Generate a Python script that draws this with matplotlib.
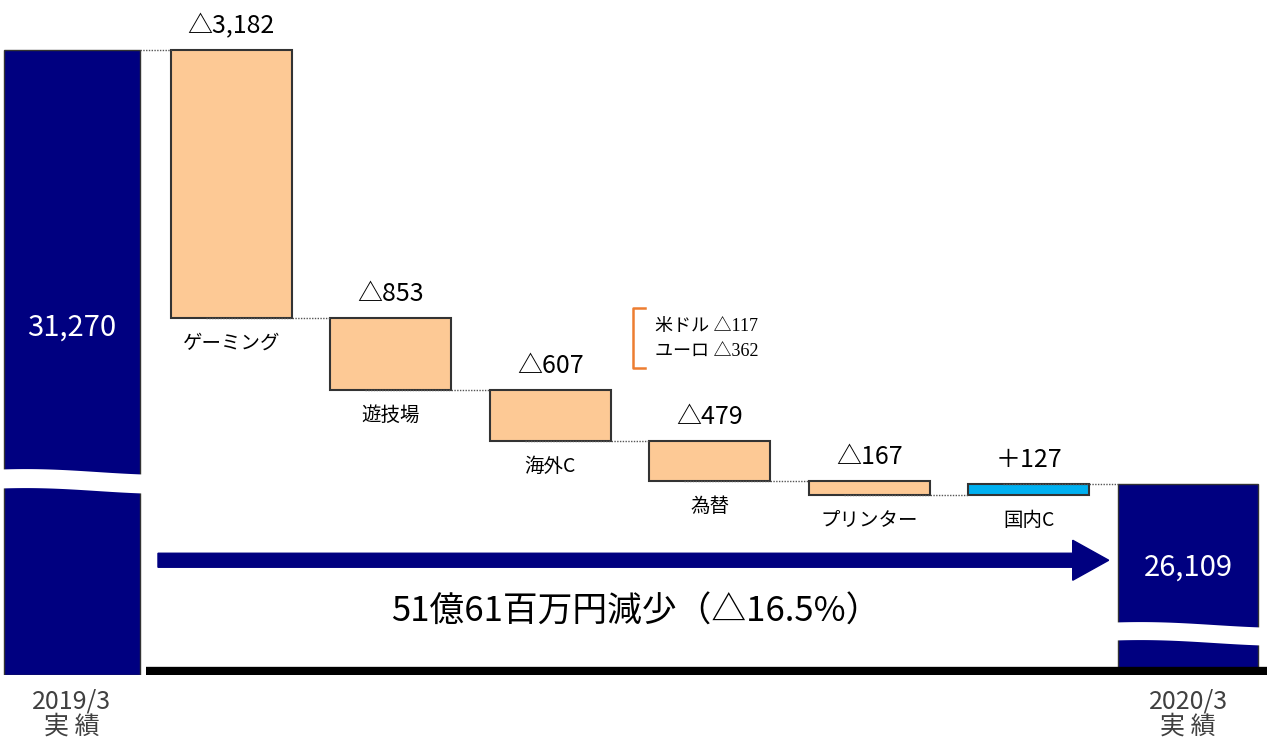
import numpy as np
import matplotlib
matplotlib.use("Agg")
import matplotlib.pyplot as plt
from matplotlib.patches import FancyArrow

plt.rcParams['font.family'] = ['Noto Sans CJK JP', 'DejaVu Sans']

# data
start_value = 31270
end_value = 26109
categories = ['ゲーミング', '遊技場', '海外C', '為替', 'プリンター', '国内C']
changes = [-3182, -853, -607, -479, -167, 127]
period_labels = ['2019/3\n実 績', '2020/3\n実 績']
fx_names = ['米ドル', 'ユーロ']
fx_values = [117, 362]
summary = '51億61百万円減少（△16.5%）'

navy = '#000080'
peach = '#FDC995'
cyan = '#00B0F0'
edge = '#333333'

fig = plt.figure(figsize=(12.71, 7.45), dpi=100)
ax = fig.add_axes([0, 70 / 745, 1, 675 / 745])
ax.set_xlim(-0.45, 7.52)
ax.set_ylim(23845, 31864)
ax.axis('off')
ybot = ax.get_ylim()[0]
xt = ax.get_xaxis_transform()

# start / end bars
n = len(categories)
ax.bar(0, start_value - ybot, bottom=ybot, width=0.85, color=navy, edgecolor=edge, lw=1, zorder=2)
ax.bar(n + 1, end_value - ybot, bottom=ybot, width=0.88, color=navy, edgecolor=edge, lw=1, zorder=2)

# floating bars
level = start_value
levels = [start_value]
for i, (cat, ch) in enumerate(zip(categories, changes)):
    x = i + 1
    lo, hi = min(level, level + ch), max(level, level + ch)
    col = peach if ch < 0 else cyan
    ax.bar(x, hi - lo, bottom=lo, width=0.76, color=col, edgecolor=edge, lw=1.5, zorder=2)
    lab = '△{:,}'.format(-ch) if ch < 0 else '＋{:,}'.format(ch)
    ax.annotate(lab, (x, hi), xytext=(0, 8), textcoords='offset points',
                ha='center', va='bottom', fontsize=18, zorder=5)
    ax.annotate(cat, (x, lo), xytext=(0, -11), textcoords='offset points',
                ha='center', va='top', fontsize=14, zorder=5)
    level += ch
    levels.append(level)

# dotted connectors
xs = list(range(n + 2))
widths = [0.85] + [0.76] * n + [0.88]
for i in range(n + 1):
    x0 = xs[i] + widths[i] / 2 if i == 0 else xs[i] - widths[i] / 2 + 0.22
    x1 = xs[i + 1] - widths[i + 1] / 2
    ax.plot([x0, x1], [levels[i], levels[i]], ls=(0, (1, 1)), color='#555555', lw=1, zorder=3)

# wavy breaks
def wave_break(xc, w, top_px, thick_px):
    t = np.linspace(0, 1, 60)
    off = 2.5 * (1 - np.cos(np.pi * t)) - 1.5 * np.sin(np.pi * t)
    x = xc - w / 2 - 0.02 + t * (w + 0.04)
    y_top = (675 - (top_px + off)) / 675
    y_bot = (675 - (top_px + thick_px + off)) / 675
    ax.fill_between(x, y_bot, y_top, color='white', transform=xt, zorder=4, lw=0)

wave_break(0, 0.85, 469, 19)
wave_break(n + 1, 0.88, 622, 18)

# baseline
ax.plot([146 / 1271, 1267 / 1271], [0.006, 0.006], color='black', lw=6,
        solid_capstyle='butt', transform=ax.transAxes, zorder=6)

# values inside start / end bars
ax.text(0, 0.514, '{:,}'.format(start_value), color='white', fontsize=21,
        ha='center', va='center', transform=xt, zorder=5)
ax.text(n + 1, 0.1585, '{:,}'.format(end_value), color='white', fontsize=21,
        ha='center', va='center', transform=xt, zorder=5)

# period labels
for x, lab in zip([0, n + 1], period_labels):
    ax.text(x, -0.058, lab, color='#404040', fontsize=18, ha='center', va='center',
            linespacing=0.95, transform=xt, clip_on=False)

# big arrow
ax.add_patch(FancyArrow(0.1243, 0.170, 0.748, 0, width=14 / 675, head_width=40 / 675,
                        head_length=36 / 1271, length_includes_head=True,
                        color=navy, transform=ax.transAxes, zorder=5))
ax.text(0.5, 0.093, summary, fontsize=25, ha='center', va='center', transform=ax.transAxes)

# fx breakdown
ax.plot([0.5075, 0.498, 0.498, 0.5075], [0.5437, 0.5437, 0.4548, 0.4548],
        color='#ED7D31', lw=1.8, transform=ax.transAxes)
for k, (nm, v) in enumerate(zip(fx_names, fx_values)):
    ax.text(0.5153, 0.5156 - k * 0.037, '{} △{}'.format(nm, v), fontsize=13,
            family=['Liberation Serif', 'Noto Sans CJK JP', 'DejaVu Sans'],
            ha='left', va='center', transform=ax.transAxes)

fig.savefig('out.png', dpi=100)
